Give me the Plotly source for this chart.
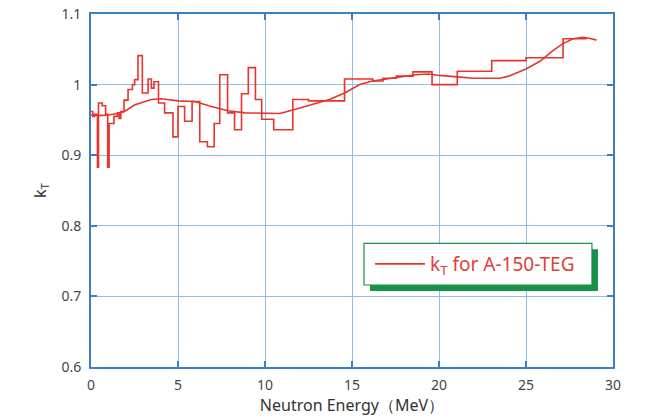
import plotly.graph_objects as go

# Step (histogram-like) kT data: bin edges and bin values
step_edges = [0.0, 0.1, 0.2, 0.37, 0.43, 0.65, 0.84, 0.96, 1.04, 1.32, 1.52, 1.62, 1.71, 1.9, 2.13,
              2.38, 2.51, 2.70, 2.95, 3.28, 3.47, 3.62, 3.88, 4.23, 4.71, 5.0, 5.38, 5.81, 6.25,
              6.69, 7.08, 7.40, 7.85, 8.25, 8.65, 9.04, 9.45, 9.81, 10.5, 11.6, 12.5, 14.57,
              16.2, 16.78, 17.55, 18.5, 19.6, 21.05, 23.03, 25.0, 27.13, 28.5]
step_values = [0.962, 0.955, 0.958, 0.883, 0.974, 0.970, 0.958, 0.883, 0.945, 0.955, 0.960, 0.952,
               0.962, 0.978, 0.993, 1.000, 1.007, 1.041, 0.988, 1.008, 0.995, 1.004, 0.974, 0.960,
               0.926, 0.969, 0.948, 0.976, 0.919, 0.912, 0.945, 1.014, 0.960, 0.936, 0.987, 1.024,
               0.979, 0.951, 0.936, 0.979, 0.977, 1.008, 1.005, 1.009, 1.012, 1.018, 1.000, 1.019,
               1.034, 1.038, 1.065]

# Smooth kT curve
smooth_E = [0.0, 0.5, 1.0, 1.54, 1.92, 2.5, 3.46, 4.04, 5.0, 5.96, 6.92, 7.88, 8.85, 10.0, 10.85,
            11.6, 12.0, 12.57, 13.1, 13.7, 14.58, 15.04, 15.44, 16.18, 16.78, 17.7, 18.66, 19.4,
            20.0, 21.05, 22.0, 23.5, 24.0, 25.0, 25.8, 26.55, 27.13, 27.7, 28.28, 28.76, 29.05]
smooth_k = [0.957, 0.956, 0.957, 0.959, 0.962, 0.971, 0.979, 0.980, 0.977, 0.976, 0.969, 0.963,
            0.960, 0.960, 0.959, 0.964, 0.967, 0.971, 0.975, 0.979, 0.988, 0.994, 1.000, 1.005,
            1.007, 1.010, 1.014, 1.015, 1.013, 1.011, 1.009, 1.009, 1.012, 1.022, 1.033, 1.048,
            1.058, 1.065, 1.067, 1.065, 1.063]

x_ticks = [0, 5, 10, 15, 20, 25, 30]
y_ticks = [0.6, 0.7, 0.8, 0.9, 1.0, 1.1]
y_tick_text = ["0.6", "0.7", "0.8", "0.9", "1", "1.1"]

RED = "#e8342c"
AXIS_BLUE = "#3d7fc4"
GRID_BLUE = "#94bde6"
GREEN = "#17924a"

step_x = step_edges
step_y = step_values + [step_values[-1]]

fig = go.Figure()
fig.add_trace(go.Scatter(x=step_x, y=step_y, mode="lines", line=dict(color=RED, width=1.6, shape="hv"),
                         showlegend=False, hoverinfo="skip"))
fig.add_trace(go.Scatter(x=smooth_E, y=smooth_k, mode="lines", line=dict(color=RED, width=1.6),
                         name="k<sub>T</sub> for A-150-TEG", showlegend=True))

# legend box with 3D green shadow
fig.add_shape(type="rect", xref="paper", yref="paper", x0=0.5345, x1=0.9712, y0=0.2153, y1=0.3334,
              fillcolor=GREEN, line=dict(width=0), layer="above")
fig.add_shape(type="rect", xref="paper", yref="paper", x0=0.523, x1=0.9597, y0=0.2323, y1=0.3504,
              fillcolor="white", line=dict(color=GREEN, width=1.2), layer="above")

fig.update_layout(
    width=644, height=411,
    margin=dict(l=83, r=39, t=6, b=52),
    paper_bgcolor="white", plot_bgcolor="white",
    font=dict(family="Noto Sans, Open Sans, sans-serif", color="#444444", size=14),
    xaxis=dict(range=[0, 30], tickvals=x_ticks, showgrid=True, gridcolor=GRID_BLUE, gridwidth=1,
               showline=True, linecolor=AXIS_BLUE, linewidth=2, mirror="ticks",
               ticks="inside", ticklen=6, tickcolor=AXIS_BLUE, tickwidth=1.5,
               zeroline=False, tickfont=dict(size=14, color="#444444"), automargin=False,
               ticklabelstandoff=4, ticklabeloverflow="allow",
               title=dict(text="Neutron Energy（MeV）", font=dict(size=16, color="#333333"), standoff=2)),
    yaxis=dict(range=[0.6, 1.1], tickvals=y_ticks, ticktext=y_tick_text, showgrid=True,
               gridcolor=GRID_BLUE, gridwidth=1,
               showline=True, linecolor=AXIS_BLUE, linewidth=2, mirror="ticks",
               ticks="inside", ticklen=6, tickcolor=AXIS_BLUE, tickwidth=1.5,
               zeroline=False, tickfont=dict(size=14, color="#444444"), automargin=False,
               ticklabelstandoff=5, ticklabeloverflow="allow",
               title=dict(text="k<sub>T</sub>", font=dict(size=16, color="#333333"), standoff=11)),
    legend=dict(x=0.5345, y=0.2918, xanchor="left", yanchor="middle", bgcolor="rgba(0,0,0,0)",
                borderwidth=0, font=dict(size=19, color="#e0403a"), itemwidth=50),
)

fig.write_html("out.html")
